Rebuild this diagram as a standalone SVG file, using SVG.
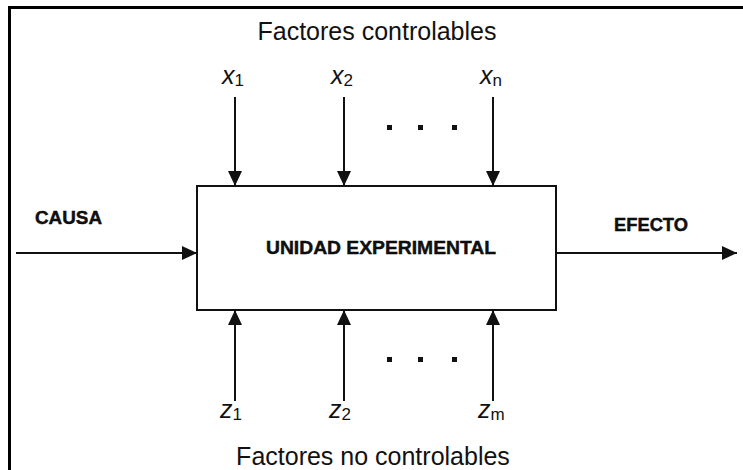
<svg xmlns="http://www.w3.org/2000/svg" width="743" height="470" viewBox="0 0 743 470">
<style>
.t{font-family:"Liberation Sans",Arial,sans-serif;fill:#111}
.h{font-size:25px}
.v{font-size:25px;font-style:italic}
.s{font-size:17px;font-style:normal}
.b{font-size:18px;font-weight:bold;stroke:#000;stroke-width:0.4}
.ln{stroke:#111;stroke-width:2;fill:none}
</style>
<defs>
<marker id="ah" markerWidth="16" markerHeight="16" refX="15" refY="8" orient="auto" markerUnits="userSpaceOnUse">
<path d="M0,1 L15,8 L0,15 Z" fill="#111"/>
</marker>
</defs>
<rect width="743" height="470" fill="#fff"/>
<path d="M9.5,470 V7.5 H743" stroke="#000" stroke-width="3" fill="none"/>
<g id="title-top"><text class="t h" x="377" y="40" text-anchor="middle">Factores controlables</text></g>
<g id="title-bottom"><text class="t h" x="373" y="465" text-anchor="middle">Factores no controlables</text></g>
<g id="box">
<rect x="197" y="186" width="359" height="124" class="ln"/>
<text class="t b" x="381" y="254" text-anchor="middle" textLength="230" lengthAdjust="spacingAndGlyphs">UNIDAD EXPERIMENTAL</text>
</g>
<g id="causa"><text class="t b" x="35" y="224" textLength="67" lengthAdjust="spacingAndGlyphs">CAUSA</text></g>
<g id="efecto"><text class="t b" x="614" y="231" textLength="74" lengthAdjust="spacingAndGlyphs">EFECTO</text></g>
<g id="x1"><text class="t v" x="222" y="84">x<tspan class="s" dy="2">1</tspan></text></g>
<g id="x2"><text class="t v" x="331" y="84">x<tspan class="s" dy="2">2</tspan></text></g>
<g id="xn"><text class="t v" x="480" y="84">x<tspan class="s" dy="2">n</tspan></text></g>
<g id="z1"><text class="t v" x="220" y="418">z<tspan class="s" dy="2">1</tspan></text></g>
<g id="z2"><text class="t v" x="329" y="418">z<tspan class="s" dy="2">2</tspan></text></g>
<g id="zm"><text class="t v" x="478" y="418">z<tspan class="s" dy="2">m</tspan></text></g>
<g id="dots-top" fill="#111"><rect x="387" y="125" width="5" height="5"/><rect x="418" y="125" width="5" height="5"/><rect x="452" y="125" width="5" height="5"/></g>
<g id="dots-bottom" fill="#111"><rect x="387" y="357" width="5" height="5"/><rect x="418" y="357" width="5" height="5"/><rect x="452" y="357" width="5" height="5"/></g>
<g id="connectors" class="ln" marker-end="url(#ah)">
<path d="M16,253 H197"/>
<path d="M556,253 H737"/>
<path d="M235,97 V186"/>
<path d="M344,97 V186"/>
<path d="M493,97 V186"/>
<path d="M235,401 V310"/>
<path d="M344,401 V310"/>
<path d="M493,401 V310"/>
</g>
</svg>
